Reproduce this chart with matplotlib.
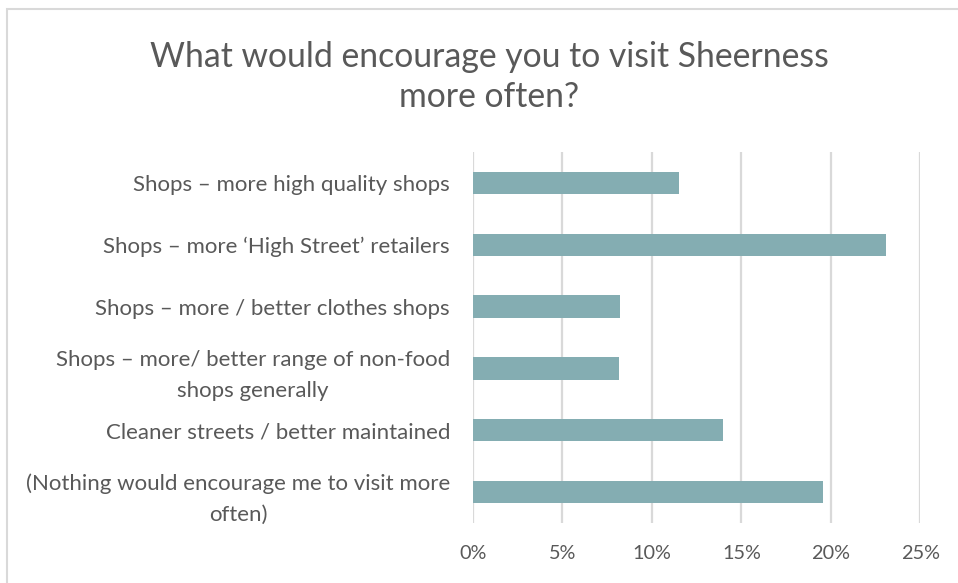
import matplotlib
matplotlib.use("Agg")
import matplotlib.pyplot as plt
from matplotlib.patches import Rectangle
from matplotlib.ticker import FuncFormatter

categories = [
    "Shops \u2013 more high quality shops",
    "Shops \u2013 more \u2018High Street\u2019 retailers",
    "Shops \u2013 more / better clothes shops",
    "Shops \u2013 more/ better range of non-food\nshops generally",
    "Cleaner streets / better maintained",
    "(Nothing would encourage me to visit more\noften)",
]
values = [11.5, 23.1, 8.2, 8.15, 13.95, 19.55]
xticks = [0, 5, 10, 15, 20, 25]
title = "What would encourage you to visit Sheerness\nmore often?"

plt.rcParams['font.family'] = ['Lato', 'DejaVu Sans']
txt = '#595959'
bar_color = '#84ADB2'
grid_color = '#D9D9D9'

fig = plt.figure(figsize=(9.58, 5.83), dpi=100)
W, H = 958, 583
ax = fig.add_axes([473 / W, 1 - 523 / H, (920.3 - 473) / W, (523 - 152) / H])

ypos = list(range(len(categories)))
ax.barh(ypos, values, height=0.36, color=bar_color, zorder=3)
ax.set_ylim(len(categories) - 0.5, -0.5)
ax.set_xlim(0, 25)
ax.set_xticks(xticks)
ax.xaxis.set_major_formatter(FuncFormatter(lambda v, p: f"{v:.0f}%"))
ax.set_yticks(ypos)
ax.set_yticklabels(categories, ha='right', multialignment='center', linespacing=1.65)
ax.tick_params(axis='y', length=0, pad=16.5, labelsize=16, labelcolor=txt)
ax.tick_params(axis='x', length=0, pad=16, labelsize=14.3, labelcolor=txt)
ax.xaxis.grid(True, color=grid_color, linewidth=1.6, zorder=0)
for s in ax.spines.values():
    s.set_visible(False)

fig.text(489 / W, 1 - 77 / H, title, ha='center', va='center',
         fontsize=24.3, color=txt, linespacing=1.3)

fig.patches.append(Rectangle((7 / W, -0.1), 1.2, 1 - 8.5 / H + 0.1,
                             transform=fig.transFigure, fill=False,
                             edgecolor='#D9D9D9', linewidth=1.5))

fig.savefig("out.png", dpi=100)
